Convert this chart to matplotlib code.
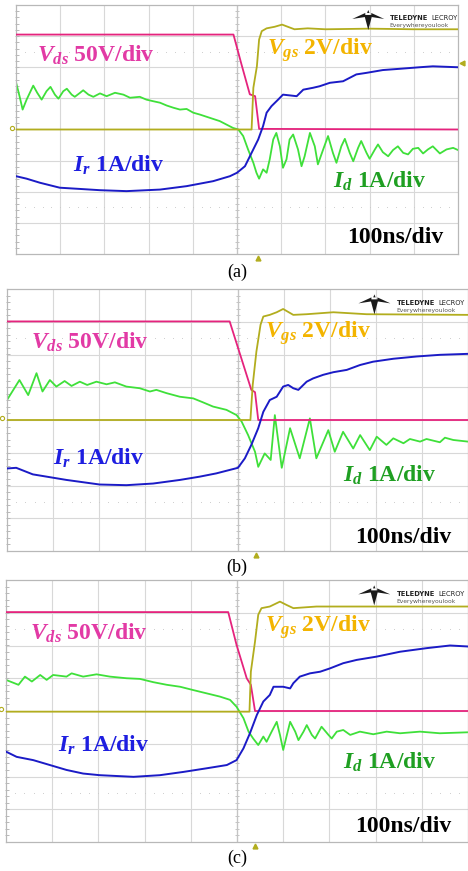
import numpy as np
import matplotlib
matplotlib.use("Agg")
import matplotlib.pyplot as plt
from matplotlib.patches import Polygon

plt.rcParams['mathtext.fontset'] = 'custom'
plt.rcParams['mathtext.it'] = 'Liberation Serif:italic:bold'
plt.rcParams['mathtext.rm'] = 'Liberation Serif:bold'
plt.rcParams['mathtext.bf'] = 'Liberation Serif:bold'

# Scope traces, x in time divisions (100 ns/div), y in vertical divisions.
# ---- (a) ----
vds_a_x = [0, 4.92, 5.10, 5.29, 5.41, 5.50, 10]
vds_a_y = [3.05, 3.05, 2.10, 1.13, 1.07, 0.02, 0.0]
vgs_a_x = [0, 5.33, 5.37, 5.45, 5.50, 5.56, 5.67, 5.85, 6.02, 6.15, 6.3, 6.6,
           7.0, 8.0, 9.0, 10]
vgs_a_y = [0, 0, 1.34, 2.03, 2.89, 3.16, 3.25, 3.30, 3.37, 3.30, 3.22, 3.25,
           3.22, 3.24, 3.22, 3.22]
id_a_x = [0, 0.08, 0.15, 0.24, 0.39, 0.48, 0.58, 0.69, 0.78, 0.88, 0.96, 1.07,
          1.15, 1.26, 1.33, 1.45, 1.52, 1.64, 1.75, 1.90, 2.05, 2.24, 2.43,
          2.58, 2.80, 2.95, 3.10, 3.26, 3.41, 3.56, 3.71, 3.86, 4.01, 4.16,
          4.31, 4.46, 4.61, 4.76, 4.91, 5.03, 5.14, 5.25, 5.37, 5.44, 5.50,
          5.59, 5.67, 5.74, 5.82, 5.89, 5.97, 6.04, 6.12, 6.19, 6.27, 6.38,
          6.46, 6.53, 6.65, 6.76, 6.83, 6.95, 7.06, 7.17, 7.25, 7.36, 7.44,
          7.55, 7.63, 7.74, 7.81, 7.93, 8.00, 8.12, 8.19, 8.30, 8.42, 8.53,
          8.64, 8.76, 8.87, 8.98, 9.10, 9.21, 9.32, 9.43, 9.59, 9.74, 9.89,
          10.0]
id_a_y = [1.52, 1.07, 0.64, 0.96, 1.41, 1.18, 0.96, 1.23, 1.37, 1.12, 0.99,
          1.23, 1.31, 1.12, 1.05, 1.18, 1.26, 1.12, 1.05, 1.16, 1.07, 1.18,
          1.12, 1.02, 1.05, 0.96, 0.91, 0.86, 0.77, 0.70, 0.64, 0.66, 0.54,
          0.48, 0.41, 0.34, 0.27, 0.16, 0.05, 0.0, -0.21, -0.64, -1.07, -1.39,
          -1.58, -1.28, -1.39, -0.96, -0.32, -0.11, -0.54, -1.23, -0.96,
          -0.32, -0.16, -0.64, -1.18, -0.86, -0.11, -0.54, -1.12, -0.64,
          -0.21, -0.75, -1.07, -0.54, -0.30, -0.75, -1.02, -0.59, -0.37,
          -0.75, -0.94, -0.64, -0.48, -0.73, -0.86, -0.66, -0.54, -0.75,
          -0.80, -0.62, -0.59, -0.77, -0.64, -0.54, -0.77, -0.64, -0.59, -0.66]
ir_a_x = [0, 0.24, 0.54, 0.99, 1.45, 1.90, 2.50, 3.26, 3.86, 4.46, 4.84, 5.00,
          5.18, 5.33, 5.48, 5.59, 5.67, 5.78, 5.93, 6.04, 6.23, 6.35, 6.50,
          6.72, 6.87, 7.10, 7.40, 7.70, 7.93, 8.30, 8.68, 9.13, 9.43, 10.0]
ir_a_y = [-1.50, -1.58, -1.71, -1.87, -1.91, -1.95, -1.98, -1.93, -1.82,
          -1.66, -1.50, -1.39, -1.18, -0.75, -0.32, 0.11, 0.54, 0.75, 0.96,
          1.12, 1.09, 1.07, 1.28, 1.34, 1.39, 1.50, 1.55, 1.77, 1.82, 1.91,
          1.95, 2.00, 2.03, 2.00]

# ---- (b) ----
vds_b_x = [0, 4.83, 5.30, 5.38, 5.45, 10]
vds_b_y = [3.01, 3.01, 0.92, 0.85, 0.0, 0.0]
vgs_b_x = [0, 5.28, 5.33, 5.41, 5.50, 5.56, 5.70, 5.85, 5.99, 6.21, 6.50, 7.08,
           7.80, 10]
vgs_b_y = [0, 0, 1.07, 2.09, 2.91, 3.16, 3.21, 3.29, 3.39, 3.21, 3.23, 3.29,
           3.23, 3.21]
id_b_x = [0, 0.27, 0.46, 0.64, 0.77, 0.93, 1.07, 1.25, 1.40, 1.58, 1.74, 1.94,
          2.16, 2.34, 2.59, 2.88, 3.10, 3.24, 3.46, 3.75, 4.04, 4.25, 4.47,
          4.76, 4.98, 5.09, 5.23, 5.38, 5.45, 5.59, 5.72, 5.81, 5.96, 6.14,
          6.35, 6.57, 6.71, 6.97, 7.11, 7.29, 7.51, 7.66, 7.87, 8.02, 8.23,
          8.38, 8.60, 8.74, 8.96, 9.10, 9.39, 9.50, 9.68, 10.0]
id_b_y = [0.61, 1.22, 0.76, 1.43, 0.87, 1.22, 1.02, 1.19, 1.04, 1.17, 1.07,
          1.17, 1.09, 1.15, 1.02, 0.97, 0.87, 0.92, 0.82, 0.71, 0.66, 0.54,
          0.41, 0.31, 0.15, -0.05, -0.46, -0.97, -1.43, -1.02, -1.22, 0.15,
          -1.46, -0.25, -1.17, 0.05, -1.17, -0.31, -0.97, -0.36, -0.87, -0.46,
          -0.92, -0.51, -0.76, -0.56, -0.71, -0.58, -0.66, -0.58, -0.68,
          -0.54, -0.61, -0.66]
ir_b_x = [0, 0.20, 0.56, 1.29, 2.01, 2.59, 3.17, 3.75, 4.18, 4.54, 5.01, 5.16,
          5.30, 5.45, 5.56, 5.70, 5.85, 5.99, 6.10, 6.21, 6.32, 6.50, 6.64,
          6.86, 7.08, 7.37, 7.66, 7.94, 8.38, 8.89, 9.39, 10.0]
ir_b_y = [-1.48, -1.46, -1.66, -1.83, -1.97, -1.99, -1.94, -1.83, -1.73,
          -1.63, -1.46, -1.17, -0.76, -0.25, 0.25, 0.61, 0.71, 1.02, 1.07,
          0.97, 0.92, 1.17, 1.27, 1.38, 1.46, 1.53, 1.68, 1.78, 1.87, 1.94,
          1.99, 2.02]

# ---- (c) ----
vds_c_x = [0, 4.81, 4.99, 5.21, 5.30, 5.39, 10]
vds_c_y = [3.02, 3.02, 2.02, 1.00, 0.80, 0.0, 0.0]
vgs_c_x = [0, 5.27, 5.30, 5.39, 5.46, 5.53, 5.71, 5.93, 6.07, 6.22, 6.72, 10]
vgs_c_y = [-0.02, -0.02, 1.20, 2.12, 2.94, 3.14, 3.19, 3.34, 3.24, 3.14, 3.19,
           3.19]
id_c_x = [0, 0.27, 0.41, 0.56, 0.74, 0.88, 1.02, 1.31, 1.42, 1.67, 1.96, 2.25,
          2.61, 2.90, 3.19, 3.48, 3.77, 4.05, 4.34, 4.63, 4.85, 4.99, 5.14,
          5.25, 5.35, 5.46, 5.57, 5.64, 5.75, 5.86, 5.93, 6.00, 6.08, 6.15,
          6.26, 6.33, 6.44, 6.51, 6.62, 6.69, 6.83, 6.98, 7.05, 7.16, 7.30,
          7.45, 7.66, 7.95, 8.24, 8.53, 8.96, 9.39, 10.0]
id_c_y = [0.95, 0.80, 1.05, 0.90, 1.10, 0.95, 1.10, 1.05, 1.15, 1.05, 1.12,
          1.05, 1.00, 0.98, 0.88, 0.80, 0.74, 0.64, 0.54, 0.44, 0.34, 0.13,
          -0.22, -0.63, -0.84, -1.04, -0.78, -0.94, -0.63, -0.33, -0.73,
          -1.19, -0.73, -0.33, -0.63, -0.89, -0.63, -0.43, -0.73, -0.84,
          -0.48, -0.73, -0.84, -0.63, -0.58, -0.73, -0.63, -0.71, -0.63,
          -0.68, -0.63, -0.68, -0.65]
ir_c_x = [0, 0.23, 0.59, 0.95, 1.31, 1.67, 2.03, 2.76, 3.33, 3.84, 4.34, 4.78,
          4.99, 5.14, 5.28, 5.43, 5.57, 5.71, 5.79, 6.00, 6.15, 6.22, 6.36,
          6.58, 6.80, 7.01, 7.30, 7.59, 8.02, 8.53, 9.11, 9.61, 10.0]
ir_c_y = [-1.24, -1.40, -1.50, -1.65, -1.80, -1.91, -1.96, -2.01, -1.96,
          -1.86, -1.75, -1.65, -1.50, -1.14, -0.68, -0.12, 0.29, 0.49, 0.74,
          0.74, 0.69, 0.85, 1.05, 1.15, 1.20, 1.30, 1.46, 1.56, 1.66, 1.81,
          1.92, 2.00, 1.97]

# label anchors (left x, baseline y) in divisions per panel
label_pos = {
    'a': {'vds': (0.48, 2.19), 'vgs': (5.68, 2.41), 'ir': (1.29, -1.34),
          'id': (7.18, -1.88), 'time': (7.49, -3.64)},
    'b': {'vds': (0.53, 2.19), 'vgs': (5.59, 2.50), 'ir': (1.00, -1.38),
          'id': (7.29, -1.89), 'time': (7.55, -3.77)},
    'c': {'vds': (0.52, 2.17), 'vgs': (5.61, 2.43), 'ir': (1.13, -1.24),
          'id': (7.30, -1.75), 'time': (7.55, -3.69)},
}
trigger_x = {'a': 5.48, 'b': 5.41, 'c': 5.39}

VDS_C, VGS_C, ID_C, IR_C = '#e5237d', '#b2ad1e', '#3fe03a', '#1b1bc6'
VDS_T, VGS_T, ID_T, IR_T = '#e23aa5', '#f3b400', '#1f9f22', '#1e1ee0'

W, H = 468, 871
fig = plt.figure(figsize=(W / 100, H / 100), dpi=100)

# panel boxes in pixels: left, top, width, height
boxes = {'a': (16, 5, 442, 249), 'b': (7, 289, 461, 262),
         'c': (6, 580, 462, 262)}
captions = {'a': 272, 'b': 567, 'c': 858}
traces = {
    'a': (vds_a_x, vds_a_y, vgs_a_x, vgs_a_y, id_a_x, id_a_y, ir_a_x, ir_a_y),
    'b': (vds_b_x, vds_b_y, vgs_b_x, vgs_b_y, id_b_x, id_b_y, ir_b_x, ir_b_y),
    'c': (vds_c_x, vds_c_y, vgs_c_x, vgs_c_y, id_c_x, id_c_y, ir_c_x, ir_c_y),
}

lab_font = dict(family='Liberation Serif', fontweight='bold', fontsize=17,
                va='baseline', ha='left')


def draw_logo(ax, wpx, hpx):
    # small Teledyne LeCroy emblem + wordmark, offsets in pixels
    cx, ty = 0.797, 0.968

    def pt(dx, dy):
        return (cx + dx / wpx, ty - dy / hpx)

    shapes = [
        [(-16, 6), (-3, 0), (-3, 4)],
        [(16, 6), (3, 0), (3, 4)],
        [(-4, 2), (4, 2), (0, 17)],
        [(-1.2, 0), (1.2, 0), (0, -3)],
    ]
    for s in shapes:
        ax.add_patch(Polygon([pt(*p) for p in s], closed=True,
                             transform=ax.transAxes, color='#1a1a1a',
                             lw=0, clip_on=False, zorder=6))
    x0 = 0.845
    ax.text(x0, 0.946, 'TELEDYNE', transform=ax.transAxes,
            fontsize=4.9, fontweight='bold', color='#222222',
            family='DejaVu Sans', va='center', ha='left', zorder=6)
    ax.text(x0 + 42 / wpx, 0.946, 'LECROY', transform=ax.transAxes,
            fontsize=4.9, color='#222222', family='DejaVu Sans',
            va='center', ha='left', zorder=6)
    ax.text(x0, 0.918, 'Everywhereyoulook', transform=ax.transAxes,
            fontsize=4.3, color='#555555', family='DejaVu Sans',
            va='center', ha='left', zorder=6)


for key in ['a', 'b', 'c']:
    l, t, w, h = boxes[key]
    ax = fig.add_axes([l / W, 1 - (t + h) / H, w / W, h / H])
    ax.set_xlim(0, 10)
    ax.set_ylim(-4, 4)
    ax.set_xticks([])
    ax.set_yticks([])
    for sp in ax.spines.values():
        sp.set_color('#b8b8b8')
        sp.set_linewidth(0.9)

    # graticule
    for gx in range(1, 10):
        ax.axvline(gx, color='#d8d8d8', lw=0.8, zorder=0)
    for gy in range(-3, 4):
        ax.axhline(gy, color='#d8d8d8', lw=0.8, zorder=0)
    dots = np.arange(0.2, 10, 0.2)
    for gy in (-2.5, 2.5):
        ax.plot(dots, np.full_like(dots, gy), ls='none', marker='s', ms=0.6,
                mew=0, color='#cccccc', zorder=0)
    ax.axvline(5, color='#c4c4c4', lw=0.9, zorder=0)
    tk = np.arange(-3.8, 4, 0.2)
    ax.plot(np.full_like(tk, 5), tk, ls='none', marker='_', ms=3,
            mew=0.7, color='#c4c4c4', zorder=0)
    ax.plot(np.full_like(tk, 0.02), tk, ls='none', marker='_', ms=2.2,
            mew=0.7, color='#b8b8b8', zorder=0, clip_on=False)

    vx, vy, gx_, gy_, dx, dy, rx, ry = traces[key]
    ax.plot(dx, dy, color=ID_C, lw=1.3, zorder=2)
    ax.plot(vx, vy, color=VDS_C, lw=1.3, zorder=3)
    ax.plot(gx_, gy_, color=VGS_C, lw=1.3, zorder=3)
    ax.plot(rx, ry, color=IR_C, lw=1.4, zorder=4)

    # markers around the screen
    ax.plot(trigger_x[key], -4.12, marker='^', ms=3.5, color=VGS_C,
            clip_on=False, zorder=5)
    ax.plot(-0.1, 0.05, marker='o', ms=3, mfc='none', mew=0.8,
            color=VGS_C, clip_on=False, zorder=5)
    if key == 'a':
        ax.plot(10.09, 2.14, marker='<', ms=3.5, color=VGS_C, zorder=5,
                clip_on=False)

    p = label_pos[key]
    ax.text(*p['vds'], r'$V_{ds}$ 50V/div', color=VDS_T, zorder=7, **lab_font)
    ax.text(*p['vgs'], r'$V_{gs}$ 2V/div', color=VGS_T, zorder=7, **lab_font)
    ax.text(*p['ir'], r'$I_{r}$ 1A/div', color=IR_T, zorder=7, **lab_font)
    ax.text(*p['id'], r'$I_{d}$ 1A/div', color=ID_T, zorder=7, **lab_font)
    ax.text(*p['time'], '100ns/div', color='black', zorder=7, **lab_font)

    draw_logo(ax, w, h)

    fig.text(237 / W, 1 - captions[key] / H, '(%s)' % key, ha='center',
             va='center', family='Liberation Serif', fontsize=13)

fig.savefig('out.png', dpi=100)
